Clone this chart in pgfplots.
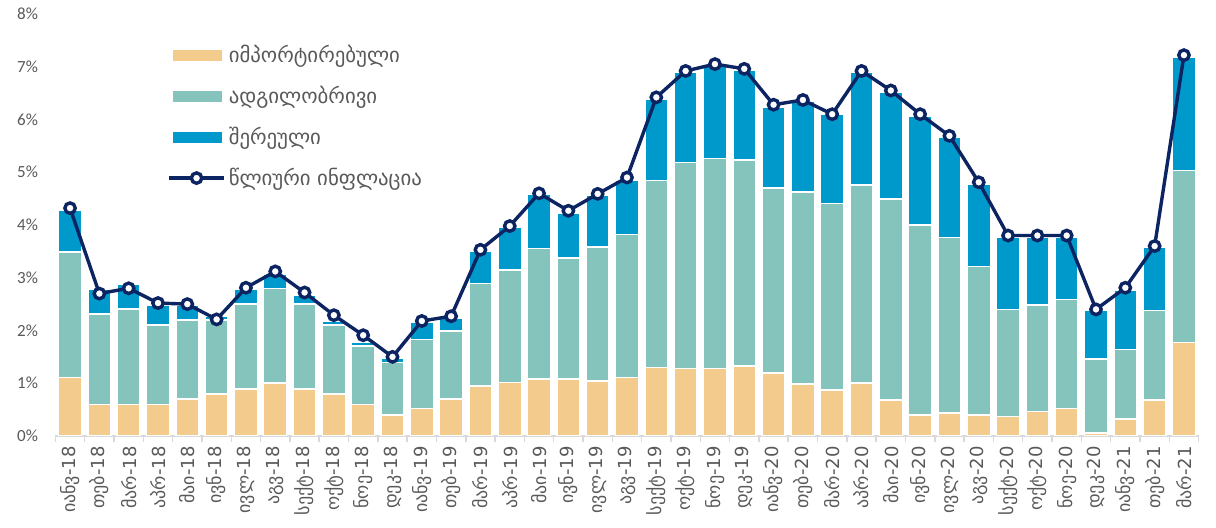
\documentclass[border=0pt]{standalone}
\usepackage{pgfplots}
\pgfplotsset{compat=1.18}
\usepackage{pgfplotstable}
\usepackage{fontspec}
\setmainfont{Carlito}
\newfontfamily\geo{DejaVu Sans}
\definecolor{tanC}{RGB}{242,203,141}
\definecolor{tealC}{RGB}{133,195,189}
\definecolor{blueC}{RGB}{0,153,204}
\definecolor{navyC}{RGB}{12,36,97}
\definecolor{labelgray}{RGB}{89,89,89}
\definecolor{axisgray}{RGB}{217,217,217}
\pgfplotstableread{
x tan teal blue infl
0 1.11 2.38 0.79 4.32
1 0.60 1.71 0.47 2.70
2 0.60 1.81 0.47 2.80
3 0.60 1.50 0.38 2.52
4 0.70 1.50 0.28 2.50
5 0.80 1.40 0.07 2.21
6 0.89 1.61 0.29 2.81
7 1.00 1.80 0.27 3.12
8 0.89 1.61 0.17 2.72
9 0.80 1.30 0.08 2.29
10 0.60 1.11 0.07 1.91
11 0.40 0.99 0.08 1.50
12 0.52 1.31 0.32 2.18
13 0.70 1.29 0.25 2.27
14 0.95 1.94 0.62 3.53
15 1.01 2.14 0.80 3.98
16 1.08 2.47 1.04 4.60
17 1.08 2.29 0.86 4.27
18 1.04 2.54 0.99 4.59
19 1.11 2.71 1.03 4.90
20 1.30 3.54 1.55 6.42
21 1.28 3.90 1.71 6.92
22 1.28 3.98 1.74 7.05
23 1.33 3.90 1.70 6.96
24 1.19 3.51 1.54 6.28
25 0.99 3.64 1.71 6.37
26 0.87 3.54 1.68 6.10
27 1.00 3.76 2.13 6.92
28 0.68 3.81 2.03 6.55
29 0.40 3.60 2.07 6.10
30 0.44 3.32 1.91 5.69
31 0.40 2.81 1.57 4.81
32 0.37 2.03 1.37 3.80
33 0.46 2.02 1.29 3.80
34 0.52 2.07 1.18 3.80
35 0.06 1.40 0.92 2.40
36 0.32 1.32 1.13 2.81
37 0.68 1.70 1.20 3.60
38 1.77 3.26 2.15 7.22
}\data
\pgfplotsset{
  common/.style={
    scale only axis, width=571.6pt, height=211pt,
    xmin=-0.5, xmax=38.5, ymin=0, ymax=8,
  }
}
\begin{document}
\begin{tikzpicture}
\begin{axis}[name=ax, common,
  ybar stacked, bar width=11.5pt,
  axis x line*=bottom, axis y line*=left,
  y axis line style={draw=none},
  x axis line style={draw=axisgray, line width=0.75pt},
  xtick={0,...,38},
  xticklabels={იანვ-18,თებ-18,მარ-18,აპრ-18,მაი-18,ივნ-18,ივლ-18,აგვ-18,სექტ-18,ოქტ-18,ნოე-18,დეკ-18,
               იანვ-19,თებ-19,მარ-19,აპრ-19,მაი-19,ივნ-19,ივლ-19,აგვ-19,სექტ-19,ოქტ-19,ნოე-19,დეკ-19,
               იანვ-20,თებ-20,მარ-20,აპრ-20,მაი-20,ივნ-20,ივლ-20,აგვ-20,სექტ-20,ოქტ-20,ნოე-20,დეკ-20,
               იანვ-21,თებ-21,მარ-21},
  minor xtick={-0.5,0.5,...,38.5},
  tick align=outside,
  major tick length=0pt, minor tick length=3pt,
  minor x tick style={draw=axisgray, line width=0.75pt},
  major x tick style={draw=none},
  ytick={0,...,8},
  yticklabels={0\%,1\%,2\%,3\%,4\%,5\%,6\%,7\%,8\%},
  ytick style={draw=none},
  xticklabel style={rotate=90, anchor=east, font=\geo\fontsize{9}{9}\selectfont, text=labelgray, inner sep=0pt},
  xticklabel shift=5pt,
  yticklabel style={font=\fontsize{8.5}{8.5}\selectfont, text=labelgray, inner sep=0pt},
  yticklabel shift=8.5pt,
]
\addplot[fill=tanC, draw=white, line width=0.75pt] table[x=x,y=tan]{\data};
\addplot[fill=tealC, draw=white, line width=0.75pt] table[x=x,y=teal]{\data};
\addplot[fill=blueC, draw=white, line width=0.75pt] table[x=x,y=blue]{\data};
\end{axis}
\begin{axis}[common, axis lines=none, xtick=\empty, ytick=\empty, clip=false,
  legend style={at={(0.0976,0.935)}, anchor=north west, draw=none, fill=none,
    font=\geo\fontsize{10.4}{10.4}\selectfont, text=labelgray, row sep=7.3pt, inner sep=0pt,
    nodes={inner sep=1.5pt}},
  legend cell align=left,
]
\addlegendimage{legend image code/.code={\fill[tanC] (0pt,-2.5pt) rectangle (24pt,2.5pt);}}
\addlegendentry{იმპორტირებული}
\addlegendimage{legend image code/.code={\fill[tealC] (0pt,-2.5pt) rectangle (24pt,2.5pt);}}
\addlegendentry{ადგილობრივი}
\addlegendimage{legend image code/.code={\fill[blueC] (0pt,-2.5pt) rectangle (24pt,2.5pt);}}
\addlegendentry{შერეული}
\addplot[navyC, line width=1.7pt, mark=*, mark size=2.6pt,
  mark options={fill=white, draw=navyC, line width=1.7pt},
  legend image code/.code={\draw[navyC, line width=1.7pt] (-2pt,0pt) -- (25.5pt,0pt);
     \draw[navyC, line width=1.7pt, fill=white] (11.75pt,0pt) circle (2.6pt);}]
  table[x=x,y=infl]{\data};
\addlegendentry{წლიური ინფლაცია}
\end{axis}
\pgfresetboundingbox
\path ([shift={(-27.7pt,-46pt)}]ax.south west) rectangle ([shift={(8.7pt,7pt)}]ax.north east);
\end{tikzpicture}
\end{document}
